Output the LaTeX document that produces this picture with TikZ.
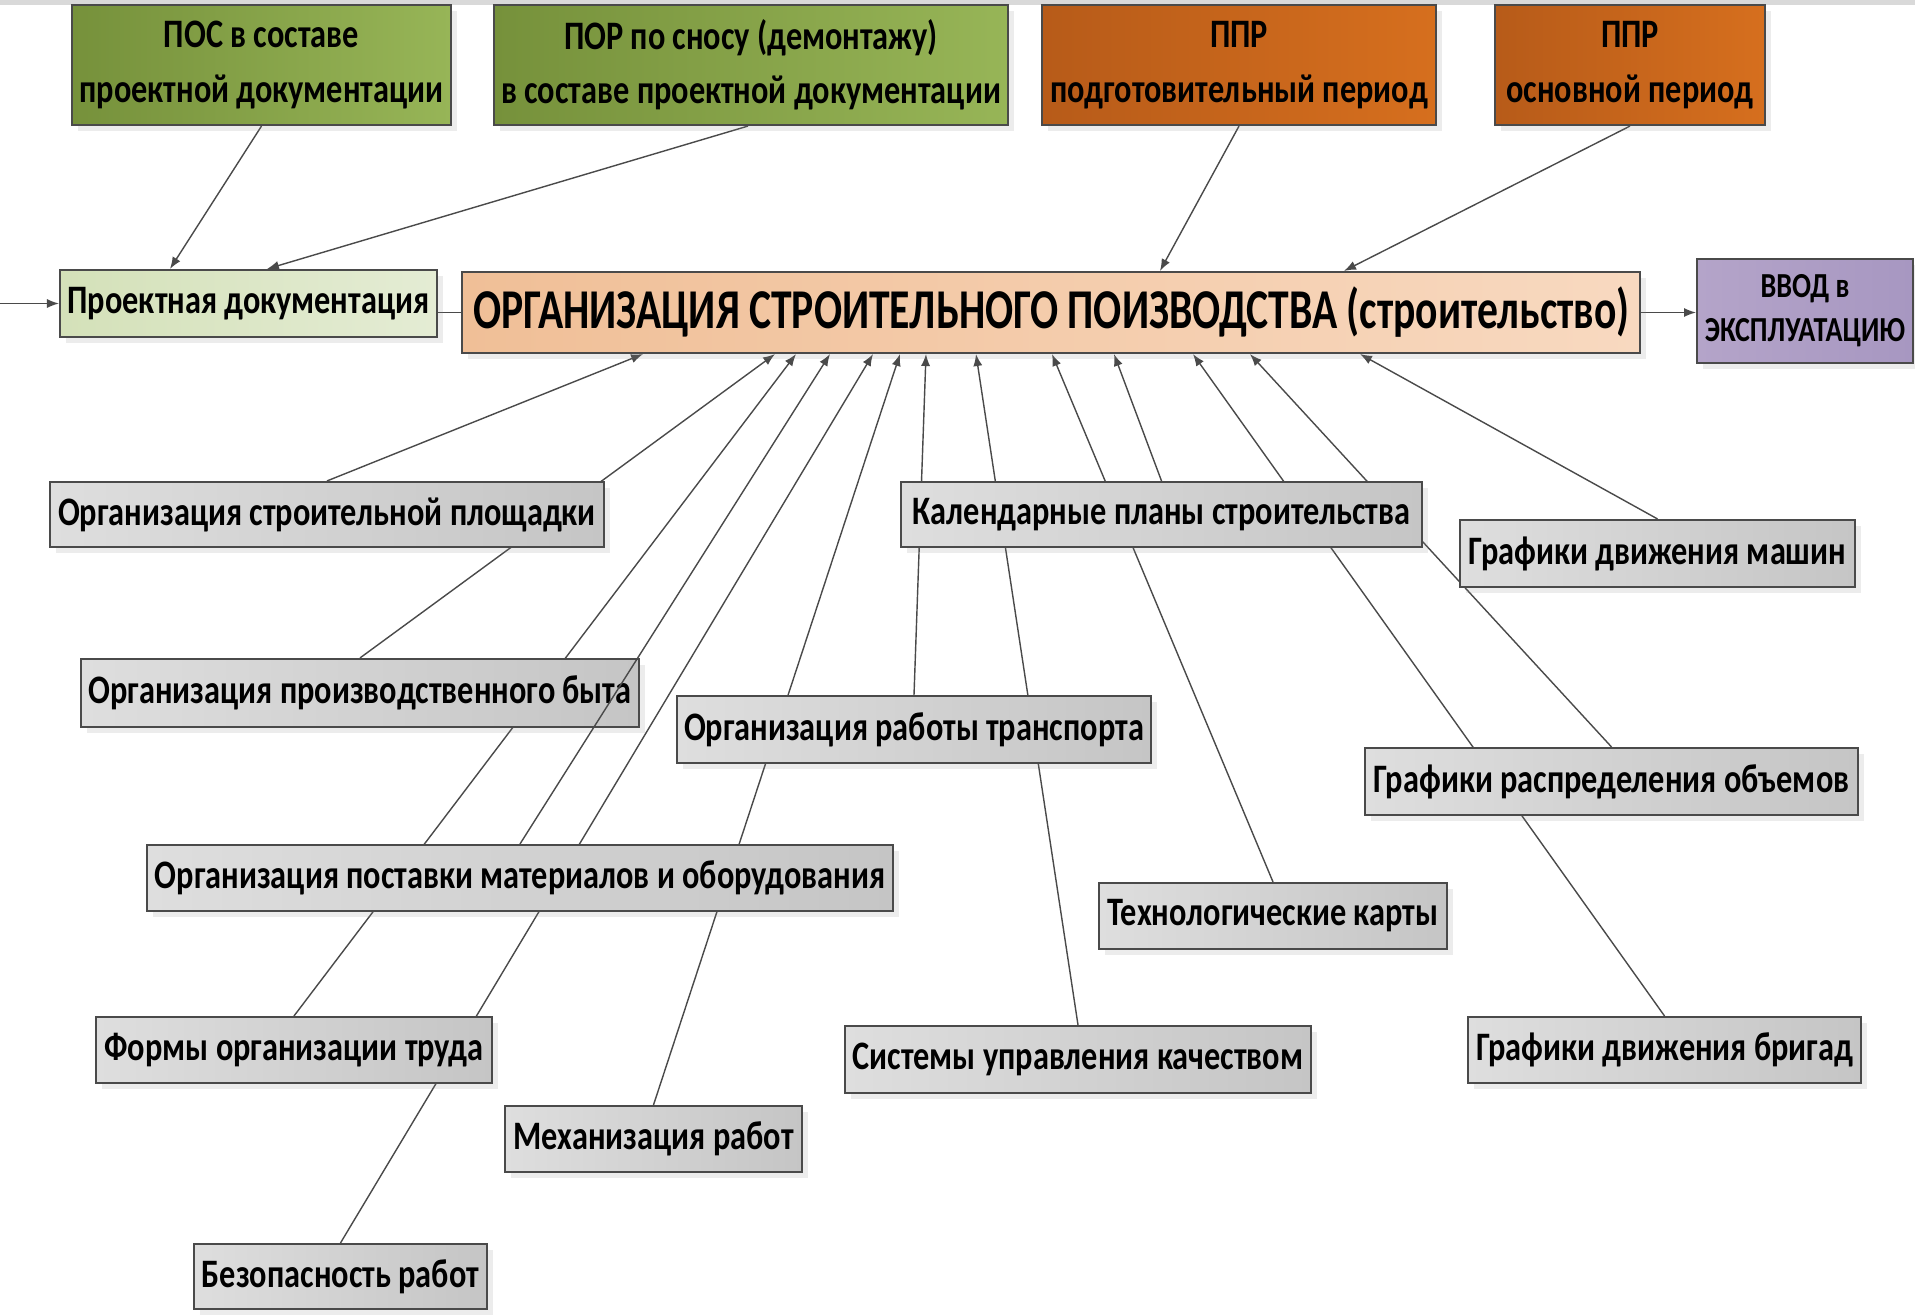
\documentclass[tikz,border=0pt]{standalone}
\usepackage{fontspec}
\newfontfamily\narrowfont{Carlito}[FakeStretch=0.8]
\newfontfamily\titlefont{Carlito}[FakeStretch=0.74]
\usetikzlibrary{arrows.meta,calc,shadows}
\pgfdeclarelayer{bg}
\pgfsetlayers{bg,main}

\definecolor{grnA}{HTML}{76913B}
\definecolor{grnB}{HTML}{97B557}
\definecolor{orgA}{HTML}{B75B19}
\definecolor{orgB}{HTML}{D66F1E}
\definecolor{lgA}{HTML}{D4E1B9}
\definecolor{lgB}{HTML}{E4ECD4}
\definecolor{pchA}{HTML}{F0BF97}
\definecolor{pchB}{HTML}{F8D9C0}
\definecolor{vioA}{HTML}{B4A4C9}
\definecolor{vioB}{HTML}{A797C1}
\definecolor{gryA}{HTML}{DEDEDE}
\definecolor{gryB}{HTML}{C5C5C5}
\definecolor{edge}{HTML}{4A4A4A}

\begin{document}
\begin{tikzpicture}[x=0.1mm,y=-0.1mm,
    box/.style={draw=edge,line width=0.6pt,inner sep=0pt,align=center,
        font=\narrowfont\bfseries\fontsize{11.5}{13}\selectfont,
        drop shadow={shadow xshift=0.6mm,shadow yshift=-0.6mm,opacity=0.15}},
    topbox/.style={box,font=\narrowfont\bfseries\fontsize{11.5}{15.5}\selectfont,minimum height=12mm},
    grnbox/.style={topbox,left color=grnA,right color=grnB},
    orgbox/.style={topbox,left color=orgA,right color=orgB},
    grybox/.style={box,left color=gryA,right color=gryB},
    arr/.style={draw=edge,line width=0.4pt,-{Latex[length=3.4pt,width=2.6pt]}},
    lnk/.style={draw=edge,line width=0.4pt}]
\useasboundingbox (0,0) rectangle (1915,1315);
\fill[black!15] (0,0) rectangle (1915,5);

% upper row
\node[grnbox,minimum width=37.9mm] (pos) at (261.5,65) {ПОС в составе\\проектной документации};
\node[grnbox,minimum width=51.4mm] (por) at (751,65) {ПОР по сносу (демонтажу)\\в составе проектной документации};
\node[orgbox,minimum width=39.4mm] (pprA) at (1239,65) {ППР\\подготовительный период};
\node[orgbox,minimum width=27mm] (pprB) at (1630,65) {ППР\\основной период};

% middle row
\node[box,left color=lgA,right color=lgB,minimum width=37.7mm,minimum height=6.7mm] (proekt) at (248.5,303.5) {Проектная документация};
\node[box,left color=pchA,right color=pchB,minimum width=117.8mm,minimum height=8.1mm,
    font=\titlefont\bfseries\fontsize{16}{18}\selectfont] (main) at (1051,312.5)
    {ОРГАНИЗАЦИЯ СТРОИТЕЛЬНОГО ПОИЗВОДСТВА (строительство)};
\node[box,left color=vioA,right color=vioB,minimum width=21.6mm,minimum height=10.4mm,
    font=\narrowfont\bfseries\fontsize{10}{12.5}\selectfont] (vvod) at (1805,311) {ВВОД в\\ЭКСПЛУАТАЦИЮ};
\coordinate (in) at (0,303.5);

% lower boxes
\node[grybox,minimum width=55.4mm,minimum height=6.5mm] (plosch) at (327,514.5) {Организация строительной площадки};
\node[grybox,minimum width=52.1mm,minimum height=6.5mm] (kalend) at (1161.5,514.5) {Календарные планы строительства};
\node[grybox,minimum width=39.5mm,minimum height=6.7mm] (mashin) at (1657.5,553.5) {Графики движения машин};
\node[grybox,minimum width=55.8mm,minimum height=6.8mm] (byt) at (360,693) {Организация производственного быта};
\node[grybox,minimum width=47.4mm,minimum height=6.7mm] (transp) at (914,729.5) {Организация работы транспорта};
\node[grybox,minimum width=49.3mm,minimum height=6.7mm] (obem) at (1611.5,781.5) {Графики распределения объемов};
\node[grybox,minimum width=74.6mm,minimum height=6.6mm] (postav) at (520,878) {Организация поставки материалов и оборудования};
\node[grybox,minimum width=34.8mm,minimum height=6.6mm] (tekhn) at (1273,916) {Технологические карты};
\node[grybox,minimum width=39.6mm,minimum height=6.6mm] (formy) at (294,1050) {Формы организации труда};
\node[grybox,minimum width=46.6mm,minimum height=6.7mm] (sist) at (1078,1059.5) {Системы управления качеством};
\node[grybox,minimum width=39.3mm,minimum height=6.6mm] (brig) at (1664.5,1050) {Графики движения бригад};
\node[grybox,minimum width=29.7mm,minimum height=6.6mm] (mekh) at (653.5,1139) {Механизация работ};
\node[grybox,minimum width=29.3mm,minimum height=6.5mm] (bezop) at (340.5,1276.5) {Безопасность работ};

\begin{pgfonlayer}{bg}
    \draw[arr] (pos.south) -- ($(proekt.north)+(-78.5,0)$);
    \draw[arr] ($(por.south)+(-3,0)$) -- ($(proekt.north)+(18.5,0)$);
    \draw[arr] (pprA.south) -- ($(main.north)+(109,0)$);
    \draw[arr] (pprB.south) -- ($(main.north)+(293,0)$);
    \draw[arr] (in) -- (proekt.west);
    \draw[lnk] (main.west -| proekt.east) -- (main.west);
    \draw[arr] (main.east) -- (main.east -| vvod.west);
    \foreach \src/\dx in {plosch/-408,byt/-276,formy/-255,bezop/-178,mekh/-151,
            transp/-125,sist/-75,tekhn/1,kalend/63,brig/142,obem/199,mashin/309}
        \draw[arr] (\src.north) -- ($(main.south)+(\dx,0)$);
\end{pgfonlayer}
% this one runs over the box
\draw[arr] (postav.north) -- ($(main.south)+(-221,0)$);
\end{tikzpicture}
\end{document}
